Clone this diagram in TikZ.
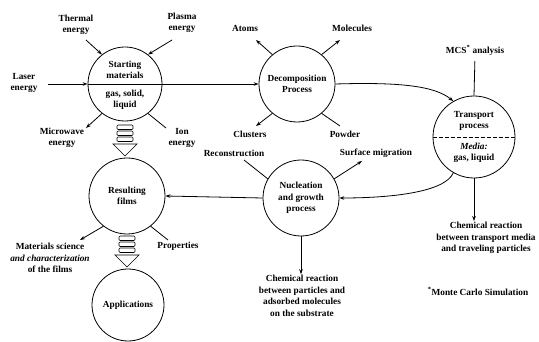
\documentclass[tikz,border=0pt]{standalone}
\usepackage{fontspec}
\setmainfont{Liberation Serif}
\usetikzlibrary{arrows.meta}
\newcommand\myhollow[2]{%
  \begin{scope}[shift={(#1,#2)}]
    \foreach \k in {0,1,2}
      \draw[line width=0.7pt, rounded corners=1pt] (-8,\k*6) rectangle (8,\k*6+4.5);
    \draw[line width=0.7pt] (-12,19) -- (12,19) -- (0,31) -- cycle;
  \end{scope}}
\begin{document}
\begin{tikzpicture}[x=1pt,y=-1pt,
  lbl/.style={font=\fontsize{9.3}{11.5}\selectfont\bfseries, align=center, inner sep=1pt},
  bub/.style={circle, draw, line width=0.8pt, inner sep=0pt},
  con/.style={line width=0.8pt},
  arr/.style={con, -{Stealth[length=5pt,width=3.5pt]}},
]
\useasboundingbox (0,0) rectangle (539,342);

% circles
\node[bub, minimum size=74pt] (start) at (125,84) {};
\node[lbl] (startT) at (125,70) {Starting\\materials};
\node[lbl] (startB) at (125,100) {gas, solid,\\liquid};
\node[bub, minimum size=76pt, lbl] (films) at (127,196) {Resulting\\films};
\node[bub, minimum size=72pt, lbl] (apps) at (128,305) {Applications};
\node[bub, minimum size=76pt, lbl] (dec) at (297,84) {Decomposition\\Process};
\node[bub, minimum size=76pt, lbl] (nuc) at (301,198) {Nucleation\\and growth\\process};
\node[bub, minimum size=82pt] (tr) at (474,137) {};
\node[lbl] (trT) at (474,121) {Transport\\process};
\node[lbl] (trB) at (474,153) {\textit{Media:}\\gas, liquid};
\draw[line width=0.6pt, dash pattern=on 4pt off 2pt] (tr.west) -- (tr.east);

% labels
\node[lbl] (thermal) at (76,25) {Thermal\\energy};
\node[lbl] (plasma) at (182,23) {Plasma\\energy};
\node[lbl] (laser) at (24,83) {Laser\\energy};
\node[lbl] (micro) at (62,138) {Microwave\\energy};
\node[lbl] (ion) at (182,138) {Ion\\energy};
\node[lbl] (atoms) at (245,28) {Atoms};
\node[lbl] (molec) at (352,28) {Molecules};
\node[lbl] (clust) at (250,134) {Clusters};
\node[lbl] (powder) at (345,134) {Powder};
\node[lbl] (recon) at (234,153) {Reconstruction};
\node[lbl] (surf) at (376,153) {Surface migration};
\node[lbl] (mcs) at (475,50) {MCS\textsuperscript{*} analysis};
\node[lbl] (chem1) at (486,238) {Chemical reaction\\between transport media\\and traveling particles};
\node[lbl] (chem2) at (302,296) {Chemical reaction\\between particles and\\adsorbed molecules\\on the substrate};
\node[lbl] (monte) at (478,291) {\textsuperscript{*}Monte Carlo Simulation};
\node[lbl] (mats) at (50,258) {Materials science\\\textit{and characterization}\\of the films};
\node[lbl] (props) at (178,246) {Properties};

% free ends
\coordinate (thermalE) at (86,40);
\coordinate (plasmaE) at (172,40);
\coordinate (laserE) at (48,84);
\coordinate (microE) at (86,128);
\coordinate (ionE) at (166,128);
\coordinate (atomsE) at (256,40);
\coordinate (molecE) at (340,40);
\coordinate (clustE) at (256,126);
\coordinate (powderE) at (340,126);
\coordinate (reconE) at (244,160);
\coordinate (surfE) at (362,161);
\coordinate (matsE) at (80,240);
\coordinate (propsE) at (168,240);

% hollow arrows
\myhollow{125}{125}
\myhollow{127}{236}

% connectors
\draw[arr] (thermalE) -- (start.128);
\draw[arr] (plasmaE) -- (start.52);
\draw[arr] (laserE) -- (start.west);
\draw[con] (start.west) -- (start.east);
\draw[arr] (start.east) -- (dec.west);
\draw[arr] (start.-128) -- (microE);
\draw[con] (start.-52) -- (ionE);
\draw[arr] (dec.130) -- (atomsE);
\draw[arr] (dec.50) -- (molecE);
\draw[arr] (dec.-130) -- (clustE);
\draw[con] (dec.-50) -- (powderE);
\draw[arr] (dec.east) .. controls (400,82) and (435,86) .. (tr.120);
\draw[con, shorten <=5pt] (mcs.south) -- (tr.north);
\draw[arr] (tr.south) -- (tr.south |- chem1.north);
\draw[arr] (tr.-120) .. controls (445,192) and (392,198) .. (nuc.east);
\draw[con] (nuc.150) -- (reconE);
\draw[arr] (nuc.30) -- (surfE);
\draw[arr] (nuc.south) -- (nuc.south |- chem2.north);
\draw[arr] (nuc.west) -- (films.east);
\draw[arr] (films.-128) -- (matsE);
\draw[con] (films.-52) -- (propsE);
\end{tikzpicture}
\end{document}
